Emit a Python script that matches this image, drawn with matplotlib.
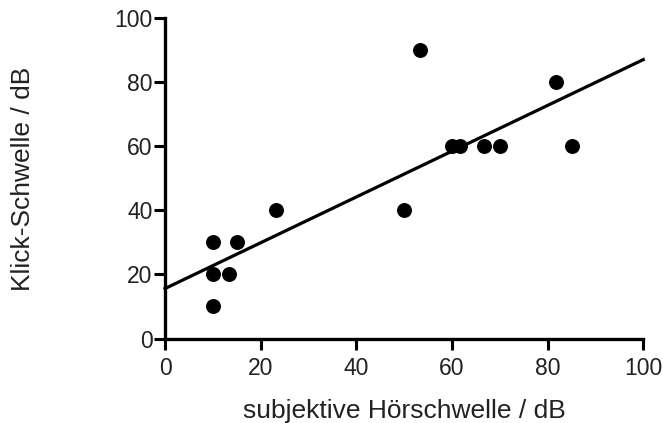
import matplotlib
matplotlib.use("Agg")
import matplotlib.pyplot as plt
import numpy as np

plt.rcParams['font.family'] = ['Liberation Sans', 'DejaVu Sans']

# Data
subjektive = [10, 10, 10, 13.3, 15, 23.3, 50, 53.3, 60, 61.7, 66.7, 70, 81.7, 85]
klick = [30, 20, 10, 20, 30, 40, 40, 90, 60, 60, 60, 60, 80, 60]
fit_intercept = 15.6
fit_slope = 0.715
x_ticks = [0, 20, 40, 60, 80, 100]
y_ticks = [0, 20, 40, 60, 80, 100]

fig = plt.figure(figsize=(6.63, 4.23), dpi=100)
ax = fig.add_axes([165/663, 1 - 338.5/423, (643.3-165)/663, (338.5-18.3)/423])

ax.scatter(subjektive, klick, s=95, color='black', zorder=3, clip_on=False)
xs = np.array([0, 100])
ax.plot(xs, fit_intercept + fit_slope * xs, color='black', lw=2.3, zorder=2, clip_on=False)

ax.set_xlim(0, 100)
ax.set_ylim(0, 100)
ax.set_xticks(x_ticks)
ax.set_yticks(y_ticks)
for s in ['top', 'right']:
    ax.spines[s].set_visible(False)
for s in ['left', 'bottom']:
    ax.spines[s].set_linewidth(2.4)
ax.tick_params(axis='both', direction='out', length=8, width=2.2, labelsize=16.5,
               labelcolor='#222222')
ax.tick_params(axis='y', pad=1.0)
ax.tick_params(axis='x', pad=5.0)

ax.set_xlabel('subjektive Hörschwelle / dB', fontsize=19, color='#222222')
ax.set_ylabel('Klick-Schwelle / dB', fontsize=19, color='#222222')
ax.xaxis.set_label_coords(0.5, -0.19)
ax.yaxis.set_label_coords(-0.272, 0.5)

fig.savefig('out.png', dpi=100)
